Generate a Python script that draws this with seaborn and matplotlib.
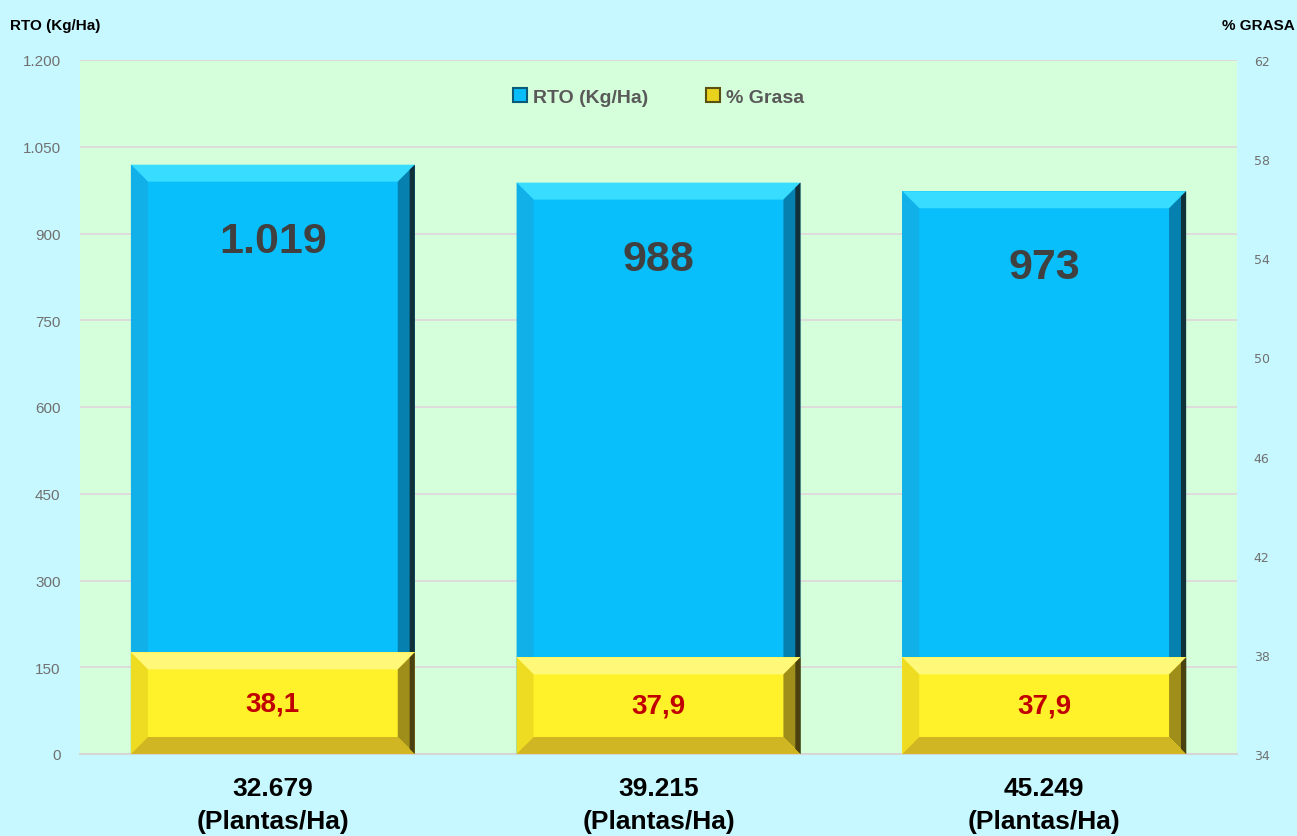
import matplotlib
matplotlib.use("Agg")
import matplotlib.pyplot as plt
import seaborn as sns
import pandas as pd
from matplotlib.patches import Polygon, Patch

categories = ["32.679\n(Plantas/Ha)", "39.215\n(Plantas/Ha)", "45.249\n(Plantas/Ha)"]
rto = [1019, 988, 973]
grasa = [38.1, 37.9, 37.9]
rto_labels = ["1.019", "988", "973"]
grasa_labels = ["38,1", "37,9", "37,9"]
left_ticks = [0, 150, 300, 450, 600, 750, 900, 1050, 1200]
left_tick_labels = ["0", "150", "300", "450", "600", "750", "900", "1.050", "1.200"]
right_ticks = [34, 38, 42, 46, 50, 54, 58, 62]

sns.set_theme(style="white")
plt.rcParams['font.family'] = ['Liberation Sans', 'DejaVu Sans']

BG = "#C8F8FF"
PLOT_BG = "#D5FFDA"
BLUE = "#08BEFB"
YELLOW = "#FFF22A"

df = pd.DataFrame({"cat": categories, "rto": rto, "grasa": grasa})

fig = plt.figure(figsize=(12.97, 8.37), dpi=100, facecolor=BG)
ax = fig.add_axes([80/1297, 82/837, 1157/1297, 694/837])
ax.set_facecolor(PLOT_BG)

sns.barplot(data=df, x="cat", y="rto", color=BLUE, saturation=1, width=0.736,
            ax=ax, zorder=2, edgecolor="none")
ax.set_ylim(0, 1200)
ax.set_xlim(-0.5, 2.5)
ax.set_yticks(left_ticks)
ax.set_yticklabels(left_tick_labels)
ax.yaxis.grid(True, color="#E0D8DC", linewidth=1.3, zorder=0)
ax.set_axisbelow(True)
for s in ["top", "right", "left"]:
    ax.spines[s].set_visible(False)
ax.spines["bottom"].set_color("#D6D6D6")
ax.spines["bottom"].set_linewidth(1.5)
ax.tick_params(axis="y", length=0, pad=14, labelsize=11, labelcolor="#707070")
ax.tick_params(axis="x", which="major", length=0, pad=16)
ax.set_xticks([-0.5, 0.5, 1.5, 2.5], minor=True)
ax.tick_params(axis="x", which="minor", length=9, color="#D6D6D6", width=1.2)
for lbl in ax.get_xticklabels():
    lbl.set_fontsize(19)
    lbl.set_fontweight("bold")
    lbl.set_color("black")
    lbl.set_linespacing(1.45)
ax.set_xlabel("")
ax.set_ylabel("")

ax2 = ax.twinx()
ax2.set_facecolor("none")
sns.barplot(data=df, x="cat", y="grasa", color=YELLOW, saturation=1, width=0.736,
            ax=ax2, zorder=2, edgecolor="none")
ax2.set_ylim(34, 62)
ax2.set_xlim(-0.5, 2.5)
ax2.set_yticks(right_ticks)
ax2.tick_params(axis="y", length=0, pad=12, labelsize=9, labelcolor="#707070")
for lbl in ax2.get_yticklabels():
    lbl.set_family("DejaVu Sans")
for s in ax2.spines.values():
    s.set_visible(False)
ax2.set_ylabel("")
ax2.set_xlabel("")


def bevel(axis, patch, top, left, right, bottom, edge, px=17):
    x0, y0 = patch.get_x(), patch.get_y()
    w, h = patch.get_width(), patch.get_height()
    x1, y1 = x0 + w, y0 + h
    y0 = max(y0, axis.get_ylim()[0])
    inv = axis.transData.inverted()
    p0 = inv.transform((0, 0))
    p1 = inv.transform((px, px))
    dx, dy = p1[0] - p0[0], p1[1] - p0[1]
    polys = [
        ([(x0, y1), (x1, y1), (x1 - dx, y1 - dy), (x0 + dx, y1 - dy)], top),
        ([(x0, y0), (x0, y1), (x0 + dx, y1 - dy), (x0 + dx, y0 + dy)], left),
        ([(x1, y0), (x1, y1), (x1 - dx, y1 - dy), (x1 - dx, y0 + dy)], right),
        ([(x0, y0), (x1, y0), (x1 - dx, y0 + dy), (x0 + dx, y0 + dy)], bottom),
    ]
    for pts, c in polys:
        if c is None:
            continue
        axis.add_patch(Polygon(pts, closed=True, facecolor=c, edgecolor="none", zorder=3))
    axis.add_patch(Polygon([(x1 - dx * 0.3, y0 + dy * 0.3), (x1, y0), (x1, y1),
                            (x1 - dx * 0.3, y1 - dy * 0.3)],
                           closed=True, facecolor=edge, edgecolor="none", zorder=3.5))


fig.canvas.draw()
for p in ax.patches[:3]:
    bevel(ax, p, top="#38DCFF", left="#12B0E8", right="#0680AE", bottom=None, edge="#10303A")
for p in ax2.patches[:3]:
    bevel(ax2, p, top="#FFF878", left="#EEDC22", right="#A08E1A", bottom="#D0B622", edge="#4A4010")

for i, p in enumerate(ax.patches[:3]):
    cx = p.get_x() + p.get_width() / 2
    ax.annotate(rto_labels[i], (cx, p.get_height()), xytext=(0, -76), textcoords="offset pixels",
                ha="center", va="center", fontsize=31, fontweight="bold", color="#404040", zorder=5)
for i, p in enumerate(ax2.patches[:3]):
    cx = p.get_x() + p.get_width() / 2
    ax2.text(cx, (34 + p.get_height()) / 2, grasa_labels[i], ha="center", va="center",
             fontsize=20, fontweight="bold", color="#C00000", zorder=5)

handles = [Patch(facecolor=BLUE, edgecolor="#0A5A78", linewidth=1.5, label="RTO (Kg/Ha)"),
           Patch(facecolor="#E8D21E", edgecolor="#5A5010", linewidth=1.5, label="% Grasa")]
leg = ax2.legend(handles=handles, loc="upper center", bbox_to_anchor=(0.5, 0.985), ncol=2,
                 frameon=False, prop={"size": 14, "weight": "bold"}, handlelength=0.7,
                 handleheight=0.7, handletextpad=0.3, columnspacing=3.0)
for t in leg.get_texts():
    t.set_color("#595959")

fig.text(10/1297, 1 - 26/837, "RTO (Kg/Ha)", ha="left", va="center", fontsize=11,
         fontweight="bold", color="black")
fig.text(1295/1297, 1 - 26/837, "% GRASA", ha="right", va="center", fontsize=11,
         fontweight="bold", color="black")

fig.savefig("out.png", dpi=100, facecolor=BG)
